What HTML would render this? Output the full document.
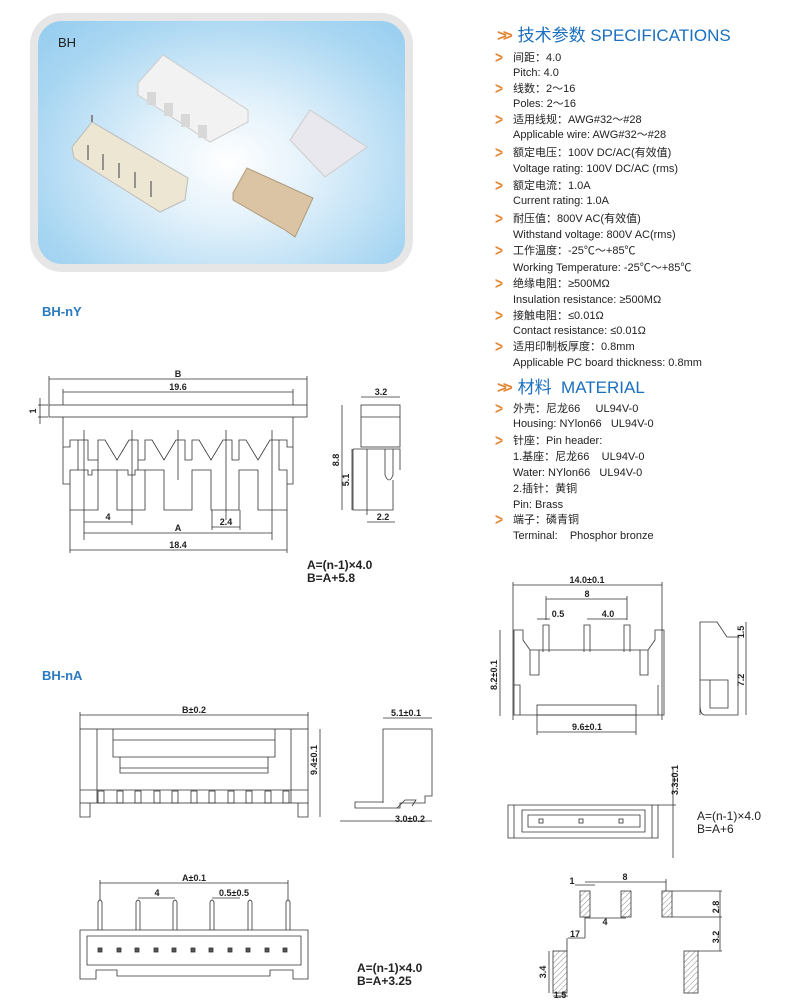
<!DOCTYPE html>
<html><head><meta charset="utf-8"><style>
body{margin:0;width:790px;height:1000px;background:#fff;position:relative;overflow:hidden;font-family:"Liberation Sans","Noto Sans CJK SC",sans-serif;color:#222}
.t{position:absolute;left:513px;font-size:11px;white-space:nowrap;line-height:14px}
.ar{position:absolute;left:494px;color:#e08a3a;font-size:17px;font-weight:bold;line-height:14px;transform:scaleX(0.8)}
.h{position:absolute;left:497px;color:#1a6fbf;font-size:17px;white-space:nowrap;line-height:20px}
.h b{color:#e08a3a;font-weight:bold;margin-right:4px;letter-spacing:-4px}
.lbl{position:absolute;color:#2a7ac0;font-size:13px;font-weight:bold}
.f{position:absolute;font-size:12px;font-weight:bold;line-height:13px;white-space:nowrap}
.photo{position:absolute;left:30px;top:13px;width:367px;height:243px;border:8px solid #e6e6e6;border-radius:32px;background:radial-gradient(ellipse at 52% 58%,#ffffff 0%,#e4f2fb 30%,#a8d6f2 75%,#94ccef 100%)}
svg{position:absolute;left:0;top:0}
</style></head><body>
<div class="photo"><div style="position:absolute;left:20px;top:14px;font-size:13px;color:#222">BH</div></div>
<svg width="790" height="1000" viewBox="0 0 790 1000">
<defs><pattern id="hh" width="4" height="4" patternUnits="userSpaceOnUse" patternTransform="rotate(45)"><line x1="0" y1="0" x2="0" y2="4" stroke="#888" stroke-width="1"/></pattern></defs>
<!-- photo parts -->
<g>
<polygon points="163,55 248,110 248,122 210,142 138,95 138,83" fill="#f2f2f2" stroke="#ccc"/>
<rect x="147" y="92" width="9" height="13" fill="#d8d8d8"/><rect x="164" y="103" width="9" height="13" fill="#d8d8d8"/><rect x="181" y="114" width="9" height="13" fill="#d8d8d8"/><rect x="198" y="125" width="9" height="13" fill="#d8d8d8"/>
<polygon points="72,147 92,122 188,178 185,200 160,212 74,158" fill="#ece6d2" stroke="#bbb"/>
<line x1="92" y1="122" x2="92" y2="115" stroke="#888" stroke-width="2"/>
<g stroke="#777" stroke-width="1.5"><line x1="88" y1="145" x2="88" y2="160"/><line x1="103" y1="154" x2="103" y2="170"/><line x1="119" y1="163" x2="119" y2="178"/><line x1="135" y1="172" x2="135" y2="188"/><line x1="151" y1="181" x2="151" y2="197"/></g>
<polygon points="290,140 310,110 367,147 325,177" fill="#e8e8ee" stroke="#ccc"/>
<polygon points="233,193 247,168 313,198 295,237 285,230 233,200" fill="#dac4a4" stroke="#b09a7a"/>
</g>
<g fill="none" stroke="#333" stroke-width="0.8">
<!-- BH-nY front -->
<line x1="49" y1="379" x2="307" y2="379"/><line x1="49" y1="376" x2="49" y2="405"/><line x1="307" y1="376" x2="307" y2="405"/>
<line x1="63" y1="392" x2="293" y2="392"/><line x1="63" y1="389" x2="63" y2="405"/><line x1="293" y1="389" x2="293" y2="405"/>
<rect x="49" y="405" width="258" height="12"/>
<path d="M63 417 V484 H70 M293 417 V484 H287"/>
<path d="M63 447 H70 V440 H78 V470 H70 V510 H98 V470 H117 V510 H145 V470 H164 V510 H192 V470 H211 V510 H239 V470 H258 V510 H287 V470 H279 V440 H287 V447 H293"/>
<path d="M78 470 H88 V475 H92 V470 H98 V460 M78 440 H88 V460 H98 M98 460 V440 L105 440 L117 460 L129 440 L138 440 V460 H145 M138 460 V470 M145 470 H135 V475 H128 V470 H117"/>
<path d="M145 460 V440 H152 L164 460 L176 440 H185 V460 H192 M192 460 V440 H199 L211 460 L223 440 H232 V460 H239 M239 460 V440 H246 L258 460 L270 440 H279"/>
<path d="M84 430 V540 M132 430 V525 M178 430 V480 M226 430 V520 M272 430 V540 M70 510 V553 M287 510 V553 M212 510 V530 M240 510 V530"/>
<line x1="84" y1="522" x2="132" y2="522"/><line x1="84" y1="533" x2="272" y2="533"/><line x1="70" y1="550" x2="287" y2="550"/><line x1="212" y1="527" x2="240" y2="527"/>
<line x1="38" y1="405" x2="48" y2="405"/><line x1="38" y1="417" x2="48" y2="417"/><line x1="40" y1="398" x2="40" y2="424"/>
<!-- side -->
<line x1="361" y1="397" x2="400" y2="397"/><rect x="361" y="405" width="39" height="42"/><line x1="361" y1="417" x2="400" y2="417"/>
<path d="M353 449 H400 V470 M353 449 V510 H393 V480 M367 449 V515 M385 449 V475 Q389 485 393 475 V449"/>
<line x1="342" y1="405" x2="342" y2="510"/><line x1="352" y1="449" x2="352" y2="510"/><line x1="367" y1="522" x2="395" y2="522"/>
<!-- BH-nA top -->
<line x1="80" y1="715" x2="308" y2="715"/><line x1="80" y1="712" x2="80" y2="729"/><line x1="308" y1="712" x2="308" y2="729"/>
<rect x="80" y="729" width="228" height="74"/><path d="M97 729 V803 M291 729 V803 M80 790 H308"/>
<path d="M113 729 V757 H275 V729 M113 740 H275 M120 757 V773 H268 V757 M120 768 H268"/>
<path d="M80 803 V817 H90 V803 M298 803 V817 H308 V803"/>
<line x1="320" y1="729" x2="320" y2="817"/>
<g><rect x="98" y="791" width="6" height="12"/><rect x="117" y="791" width="6" height="12"/><rect x="135" y="791" width="6" height="12"/><rect x="154" y="791" width="6" height="12"/><rect x="172" y="791" width="6" height="12"/><rect x="191" y="791" width="6" height="12"/><rect x="209" y="791" width="6" height="12"/><rect x="228" y="791" width="6" height="12"/><rect x="246" y="791" width="6" height="12"/><rect x="265" y="791" width="6" height="12"/><rect x="283" y="791" width="6" height="12"/></g>
<!-- side A -->
<line x1="383" y1="718" x2="432" y2="718"/><path d="M383 729 H432 V796 H425 V803 H400 V808 H355 V802 H383 Z M383 729 V803"/>
<path d="M397 808 L405 800 H416 L412 806"/><line x1="340" y1="821" x2="432" y2="821"/>
<!-- bottom A -->
<line x1="100" y1="883" x2="288" y2="883"/><line x1="138" y1="898" x2="175" y2="898"/><line x1="212" y1="898" x2="240" y2="898"/>
<g><path d="M98 930 V902 Q100 898 102 902 V930"/><path d="M136 930 V902 Q138 898 140 902 V930"/><path d="M173 930 V902 Q175 898 177 902 V930"/><path d="M210 930 V902 Q212 898 214 902 V930"/><path d="M248 930 V902 Q250 898 252 902 V930"/><path d="M286 930 V902 Q288 898 290 902 V930"/></g>
<line x1="100" y1="880" x2="100" y2="900"/><line x1="288" y1="880" x2="288" y2="900"/>
<path d="M80 930 H308 V979 H293 V970 H270 V976 H117 V970 H96 V979 H80 Z M87 936 H301 V965 H87 Z"/>
<g fill="#555"><rect x="98" y="948" width="4" height="4"/><rect x="117" y="948" width="4" height="4"/><rect x="135" y="948" width="4" height="4"/><rect x="154" y="948" width="4" height="4"/><rect x="172" y="948" width="4" height="4"/><rect x="191" y="948" width="4" height="4"/><rect x="209" y="948" width="4" height="4"/><rect x="228" y="948" width="4" height="4"/><rect x="246" y="948" width="4" height="4"/><rect x="265" y="948" width="4" height="4"/><rect x="283" y="948" width="4" height="4"/></g>
<!-- right top -->
<line x1="513" y1="585" x2="662" y2="585"/><line x1="513" y1="582" x2="513" y2="720"/><line x1="662" y1="582" x2="662" y2="720"/>
<line x1="546" y1="599" x2="627" y2="599"/><line x1="546" y1="596" x2="546" y2="620"/><line x1="627" y1="596" x2="627" y2="620"/>
<line x1="537" y1="619" x2="550" y2="619"/><line x1="587" y1="619" x2="627" y2="619"/>
<path d="M543 652 V625 H549 V652 M584 652 V625 H590 V652 M624 652 V625 H630 V652"/>
<path d="M514 630 H523 V640 L530 650 H648 L655 640 V630 H664 V715 H514 Z M514 685 H520 V715 M658 685 V715 M530 650 V675 H539 V650 M640 650 V675 H648 V650"/>
<rect x="537" y="705" width="99" height="10"/><line x1="537" y1="732" x2="636" y2="732"/><line x1="537" y1="715" x2="537" y2="735"/><line x1="636" y1="715" x2="636" y2="735"/>
<line x1="500" y1="630" x2="500" y2="716"/>
<path d="M700 622 H717 L727 637 H738 V715 H705 Q700 715 700 705 Z M700 680 V715 M710 680 V708 H728 V680 H700 M738 680 V715"/>
<line x1="746" y1="622" x2="746" y2="715"/>
<!-- right middle -->
<path d="M508 805 H658 V838 H508 Z M514 805 V838 M652 805 V838 M522 810 H645 V832 H522 Z M528 815 H640 V827 H528 Z"/>
<g><rect x="539" y="819" width="4" height="4"/><rect x="579" y="819" width="4" height="4"/><rect x="619" y="819" width="4" height="4"/></g>
<line x1="673" y1="768" x2="673" y2="858"/><line x1="658" y1="805" x2="676" y2="805"/>
<!-- right bottom -->
<line x1="585" y1="882" x2="666" y2="882"/><line x1="666" y1="879" x2="666" y2="891"/><line x1="575" y1="885" x2="595" y2="885"/>
<line x1="585" y1="918" x2="626" y2="918"/><line x1="585" y1="917" x2="585" y2="938"/><line x1="568" y1="938" x2="585" y2="938"/><line x1="567" y1="938" x2="567" y2="951"/>
<path d="M672 891 H722 M672 917 H722 M720 891 V951 M698 951 H722"/>
<line x1="553" y1="996" x2="568" y2="996"/><line x1="549" y1="951" x2="549" y2="993"/>
</g>
<g stroke="#333" stroke-width="0.8" fill="url(#hh)">
<rect x="580" y="891" width="10" height="26"/><rect x="621" y="891" width="10" height="26"/><rect x="662" y="891" width="10" height="26"/><rect x="553" y="951" width="14" height="42"/><rect x="684" y="951" width="14" height="42"/>
</g>
<g font-family="Liberation Sans,sans-serif" font-size="9" font-weight="bold" fill="#222" text-anchor="middle">
<text x="178" y="377">B</text><text x="178" y="390">19.6</text><text x="36" y="411" transform="rotate(-90 36 411)">1</text>
<text x="108" y="520">4</text><text x="178" y="531">A</text><text x="226" y="525">2.4</text><text x="178" y="548">18.4</text>
<text x="381" y="395">3.2</text><text x="339" y="460" transform="rotate(-90 339 460)">8.8</text><text x="349" y="480" transform="rotate(-90 349 480)">5.1</text><text x="383" y="520">2.2</text>
<text x="194" y="713">B±0.2</text><text x="317" y="760" transform="rotate(-90 317 760)">9.4±0.1</text><text x="406" y="716">5.1±0.1</text><text x="410" y="822">3.0±0.2</text>
<text x="194" y="881">A±0.1</text><text x="157" y="896">4</text><text x="234" y="896">0.5±0.5</text>
<text x="587" y="583">14.0±0.1</text><text x="587" y="597">8</text><text x="558" y="617">0.5</text><text x="608" y="617">4.0</text><text x="497" y="675" transform="rotate(-90 497 675)">8.2±0.1</text><text x="587" y="730">9.6±0.1</text>
<text x="744" y="632" transform="rotate(-90 744 632)">1.5</text><text x="744" y="680" transform="rotate(-90 744 680)">7.2</text>
<text x="678" y="780" transform="rotate(-90 678 780)">3.3±0.1</text>
<text x="572" y="884">1</text><text x="625" y="880">8</text><text x="605" y="925">4</text><text x="575" y="937">17</text><text x="719" y="907" transform="rotate(-90 719 907)">2.8</text><text x="719" y="937" transform="rotate(-90 719 937)">3.2</text><text x="546" y="972" transform="rotate(-90 546 972)">3.4</text><text x="560" y="998">1.5</text>
</g>
</svg>
<div class="h" style="top:26px"><b>&gt;&gt;</b> 技术参数 SPECIFICATIONS</div>
<div class="ar" style="top:51px">&gt;</div><div class="t" style="top:51px">间距：4.0</div>
<div class="t" style="top:66px">Pitch: 4.0</div>
<div class="ar" style="top:82px">&gt;</div><div class="t" style="top:82px">线数：2～16</div>
<div class="t" style="top:97px">Poles: 2～16</div>
<div class="ar" style="top:113px">&gt;</div><div class="t" style="top:113px">适用线规：AWG#32～#28</div>
<div class="t" style="top:128px">Applicable wire: AWG#32～#28</div>
<div class="ar" style="top:146px">&gt;</div><div class="t" style="top:146px">额定电压：100V DC/AC(有效值)</div>
<div class="t" style="top:162px">Voltage rating: 100V DC/AC (rms)</div>
<div class="ar" style="top:179px">&gt;</div><div class="t" style="top:179px">额定电流：1.0A</div>
<div class="t" style="top:194px">Current rating: 1.0A</div>
<div class="ar" style="top:212px">&gt;</div><div class="t" style="top:212px">耐压值：800V AC(有效值)</div>
<div class="t" style="top:228px">Withstand voltage: 800V AC(rms)</div>
<div class="ar" style="top:244px">&gt;</div><div class="t" style="top:244px">工作温度：-25℃～+85℃</div>
<div class="t" style="top:261px">Working Temperature: -25℃～+85℃</div>
<div class="ar" style="top:277px">&gt;</div><div class="t" style="top:277px">绝缘电阻：≥500MΩ</div>
<div class="t" style="top:293px">Insulation resistance: ≥500MΩ</div>
<div class="ar" style="top:309px">&gt;</div><div class="t" style="top:309px">接触电阻：≤0.01Ω</div>
<div class="t" style="top:324px">Contact resistance: ≤0.01Ω</div>
<div class="ar" style="top:340px">&gt;</div><div class="t" style="top:340px">适用印制板厚度：0.8mm</div>
<div class="t" style="top:356px">Applicable PC board thickness: 0.8mm</div>
<div class="h" style="top:378px"><b>&gt;&gt;</b> 材料&nbsp; MATERIAL</div>
<div class="ar" style="top:402px">&gt;</div><div class="t" style="top:402px">外壳：尼龙66&nbsp;&nbsp;&nbsp;&nbsp; UL94V-0</div>
<div class="t" style="top:417px">Housing: NYlon66&nbsp;&nbsp; UL94V-0</div>
<div class="ar" style="top:434px">&gt;</div><div class="t" style="top:434px">针座：Pin header:</div>
<div class="t" style="top:450px">1.基座：尼龙66&nbsp;&nbsp;&nbsp; UL94V-0</div>
<div class="t" style="top:466px">Water: NYlon66&nbsp;&nbsp; UL94V-0</div>
<div class="t" style="top:482px">2.插针：黄铜</div>
<div class="t" style="top:498px">Pin: Brass</div>
<div class="ar" style="top:513px">&gt;</div><div class="t" style="top:513px">端子：磷青铜</div>
<div class="t" style="top:529px">Terminal:&nbsp;&nbsp;&nbsp; Phosphor bronze</div>
<div class="lbl" style="left:42px;top:304px">BH-nY</div>
<div class="lbl" style="left:42px;top:668px">BH-nA</div>
<div class="f" style="left:307px;top:559px">A=(n-1)×4.0<br>B=A+5.8</div>
<div class="f" style="left:357px;top:962px">A=(n-1)×4.0<br>B=A+3.25</div>
<div class="f" style="left:697px;top:810px;font-weight:normal">A=(n-1)×4.0<br>B=A+6</div>
</body></html>
